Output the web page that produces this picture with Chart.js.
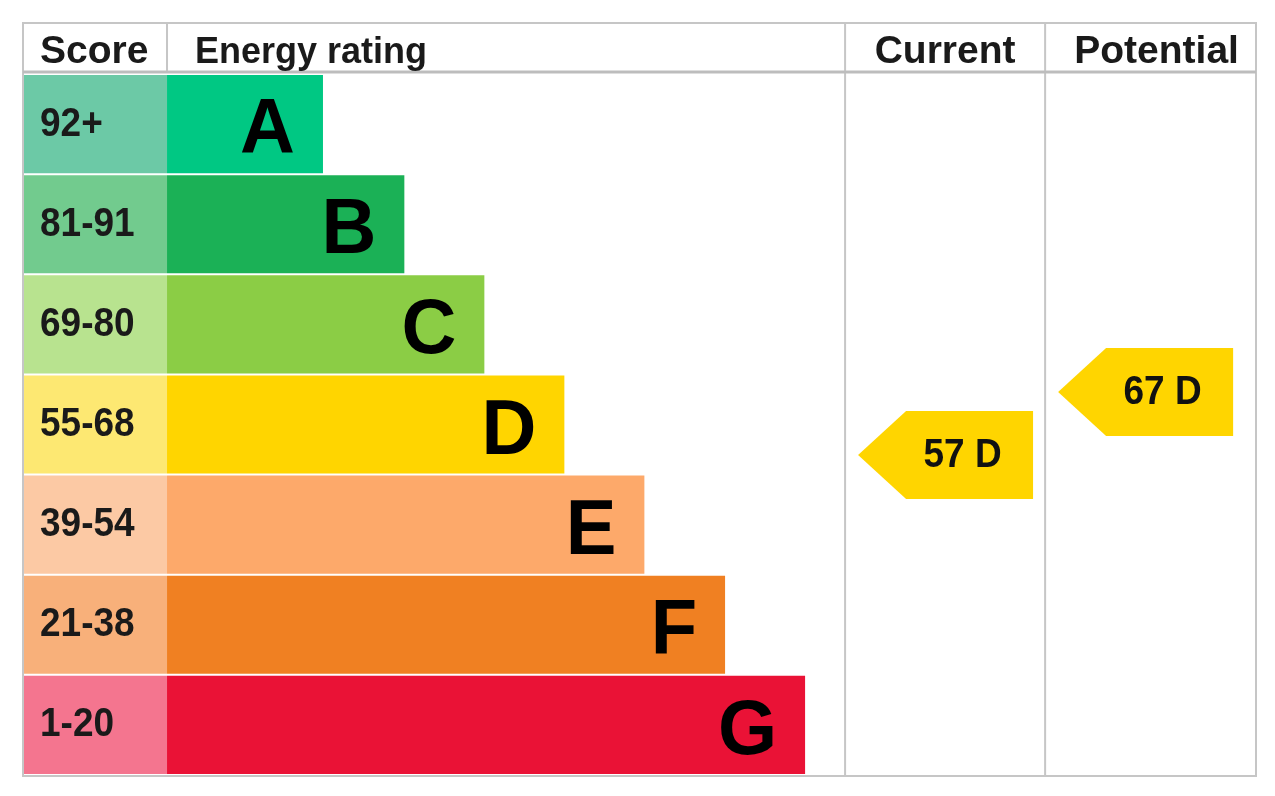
<!DOCTYPE html>
<html>
<head>
<meta charset="utf-8">
<title>Energy rating</title>
<script src="https://cdn.jsdelivr.net/npm/chart.js@4.4.1/dist/chart.umd.min.js"></script>
<style>
  html, body { margin: 0; padding: 0; background: #fff; }
  #wrap { width: 1275px; height: 796px; }
</style>
</head>
<body>
<div id="wrap"><canvas id="epcChart" width="1275" height="796"></canvas></div>
<script>
// Bands, top to bottom
const bands = ['A', 'B', 'C', 'D', 'E', 'F', 'G'];
const scoreRanges = ['92+', '81-91', '69-80', '55-68', '39-54', '21-38', '1-20'];
// bar length, as a share of the "Energy rating" column
const barLengths = [23, 35, 46.8, 58.6, 70.4, 82.3, 94.1];
const bandColors = ['#00c883', '#1bb156', '#8bcd45', '#ffd500', '#fda96a', '#f08022', '#ea1236'];
const scoreColors = ['#6cc9a6', '#72cb8e', '#b8e38f', '#fde872', '#fcc9a4', '#f8b07a', '#f4758f'];

const headers = ['Score', 'Energy rating', 'Current', 'Potential'];
const ratingScores = [57, 67];
const ratingBands = ['D', 'D'];

// x units: the energy rating column runs 0..100, score column sits left of it,
// current / potential columns to the right
const X_MIN = -21.24, X_MAX = 160.6;
const colEdges = [X_MIN, 0, 100, 129.5, X_MAX];

const FONT = '"Liberation Sans", Arial, Helvetica, sans-serif';
const CAP = 0.716;

function stretchedText(ctx, text, x, baseline, size, align, sy) {
    ctx.save();
    ctx.font = 'bold ' + size + 'px ' + FONT;
    ctx.textAlign = align;
    ctx.textBaseline = 'alphabetic';
    ctx.translate(x, baseline);
    ctx.scale(1, sy);
    ctx.fillText(text, 0, 0);
    ctx.restore();
}

function centeredText(ctx, text, x, cy, size, align, sy) {
    stretchedText(ctx, text, x, cy + CAP * size * sy / 2, size, align, sy);
}

const epcTable = {
    id: 'epcTable',
    beforeDraw(chart) {
        const ctx = chart.ctx;
        ctx.save();
        ctx.fillStyle = '#fff';
        ctx.fillRect(0, 0, chart.width, chart.height);
        ctx.restore();
    },
    afterDatasetsDraw(chart) {
        const { ctx, chartArea: area, scales } = chart;
        const colPx = colEdges.map(v => scales.x.getPixelForValue(v));
        const headTop = 23, headLine = 72;

        ctx.save();

        // table lines
        ctx.strokeStyle = '#c6c6c6';
        ctx.lineWidth = 2;
        ctx.strokeRect(colPx[0], headTop, colPx[4] - colPx[0], area.bottom + 1 - headTop);
        ctx.beginPath();
        ctx.moveTo(colPx[1], headTop);
        ctx.lineTo(colPx[1], headLine);
        ctx.moveTo(colPx[2], headTop);
        ctx.lineTo(colPx[2], area.bottom + 1);
        ctx.moveTo(colPx[3], headTop);
        ctx.lineTo(colPx[3], area.bottom + 1);
        ctx.stroke();
        ctx.strokeStyle = '#bdbdbd';
        ctx.lineWidth = 3;
        ctx.beginPath();
        ctx.moveTo(colPx[0], headLine);
        ctx.lineTo(colPx[4], headLine);
        ctx.stroke();

        // header
        ctx.fillStyle = '#1a1a1a';
        stretchedText(ctx, headers[0], colPx[0] + 17, 63, 39, 'left', 1);
        stretchedText(ctx, headers[1], colPx[1] + 28, 63, 36, 'left', 1);
        stretchedText(ctx, headers[2], (colPx[2] + colPx[3]) / 2, 63, 39, 'center', 1);
        stretchedText(ctx, headers[3], (colPx[3] + colPx[4]) / 2 + 6, 63, 39, 'center', 1);

        // score ranges and band letters
        const bars = chart.getDatasetMeta(1).data;
        bars.forEach((bar, i) => {
            ctx.fillStyle = '#1a1a1a';
            centeredText(ctx, scoreRanges[i], colPx[0] + 17, bar.y - 3, 37, 'left', 1.1);
            ctx.fillStyle = '#000';
            centeredText(ctx, bands[i], bar.x - 28, bar.y + 1, 76, 'right', 1.03);
        });

        // current / potential arrows, placed by score
        const w = 175, h = 88, tip = 48;
        ratingScores.forEach((s, i) => {
            const cy = scales.yScore.getPixelForValue(s);
            const left = colPx[2 + i] + 13;
            ctx.fillStyle = bandColors[bands.indexOf(ratingBands[i])];
            ctx.beginPath();
            ctx.moveTo(left, cy);
            ctx.lineTo(left + tip, cy - h / 2);
            ctx.lineTo(left + w, cy - h / 2);
            ctx.lineTo(left + w, cy + h / 2);
            ctx.lineTo(left + tip, cy + h / 2);
            ctx.closePath();
            ctx.fill();
            ctx.fillStyle = '#111';
            centeredText(ctx, s + ' ' + ratingBands[i], left + tip + (w - tip) / 2 - 7, cy - 2.5, 37, 'center', 1.1);
        });

        ctx.restore();
    }
};

const barStyle = {
    grouped: false,
    barPercentage: 0.98,
    categoryPercentage: 1,
    borderWidth: 0,
    borderSkipped: false,
    yAxisID: 'y'
};

new Chart(document.getElementById('epcChart'), {
    type: 'bar',
    data: {
        labels: bands,
        datasets: [
            Object.assign({
                label: 'Score',
                data: bands.map(() => [X_MIN, 0]),
                backgroundColor: scoreColors
            }, barStyle),
            Object.assign({
                label: 'Energy rating',
                data: barLengths,
                backgroundColor: bandColors
            }, barStyle)
        ]
    },
    options: {
        indexAxis: 'y',
        responsive: false,
        animation: false,
        events: [],
        layout: { padding: { left: 23, right: 19, top: 74, bottom: 21 } },
        plugins: {
            legend: { display: false },
            tooltip: { enabled: false }
        },
        scales: {
            x: { type: 'linear', min: X_MIN, max: X_MAX, display: false },
            y: { type: 'category', display: false, offset: true },
            yScore: { type: 'linear', min: 6.2, max: 117.5, offset: false, display: false }
        }
    },
    plugins: [epcTable]
});
</script>
</body>
</html>
